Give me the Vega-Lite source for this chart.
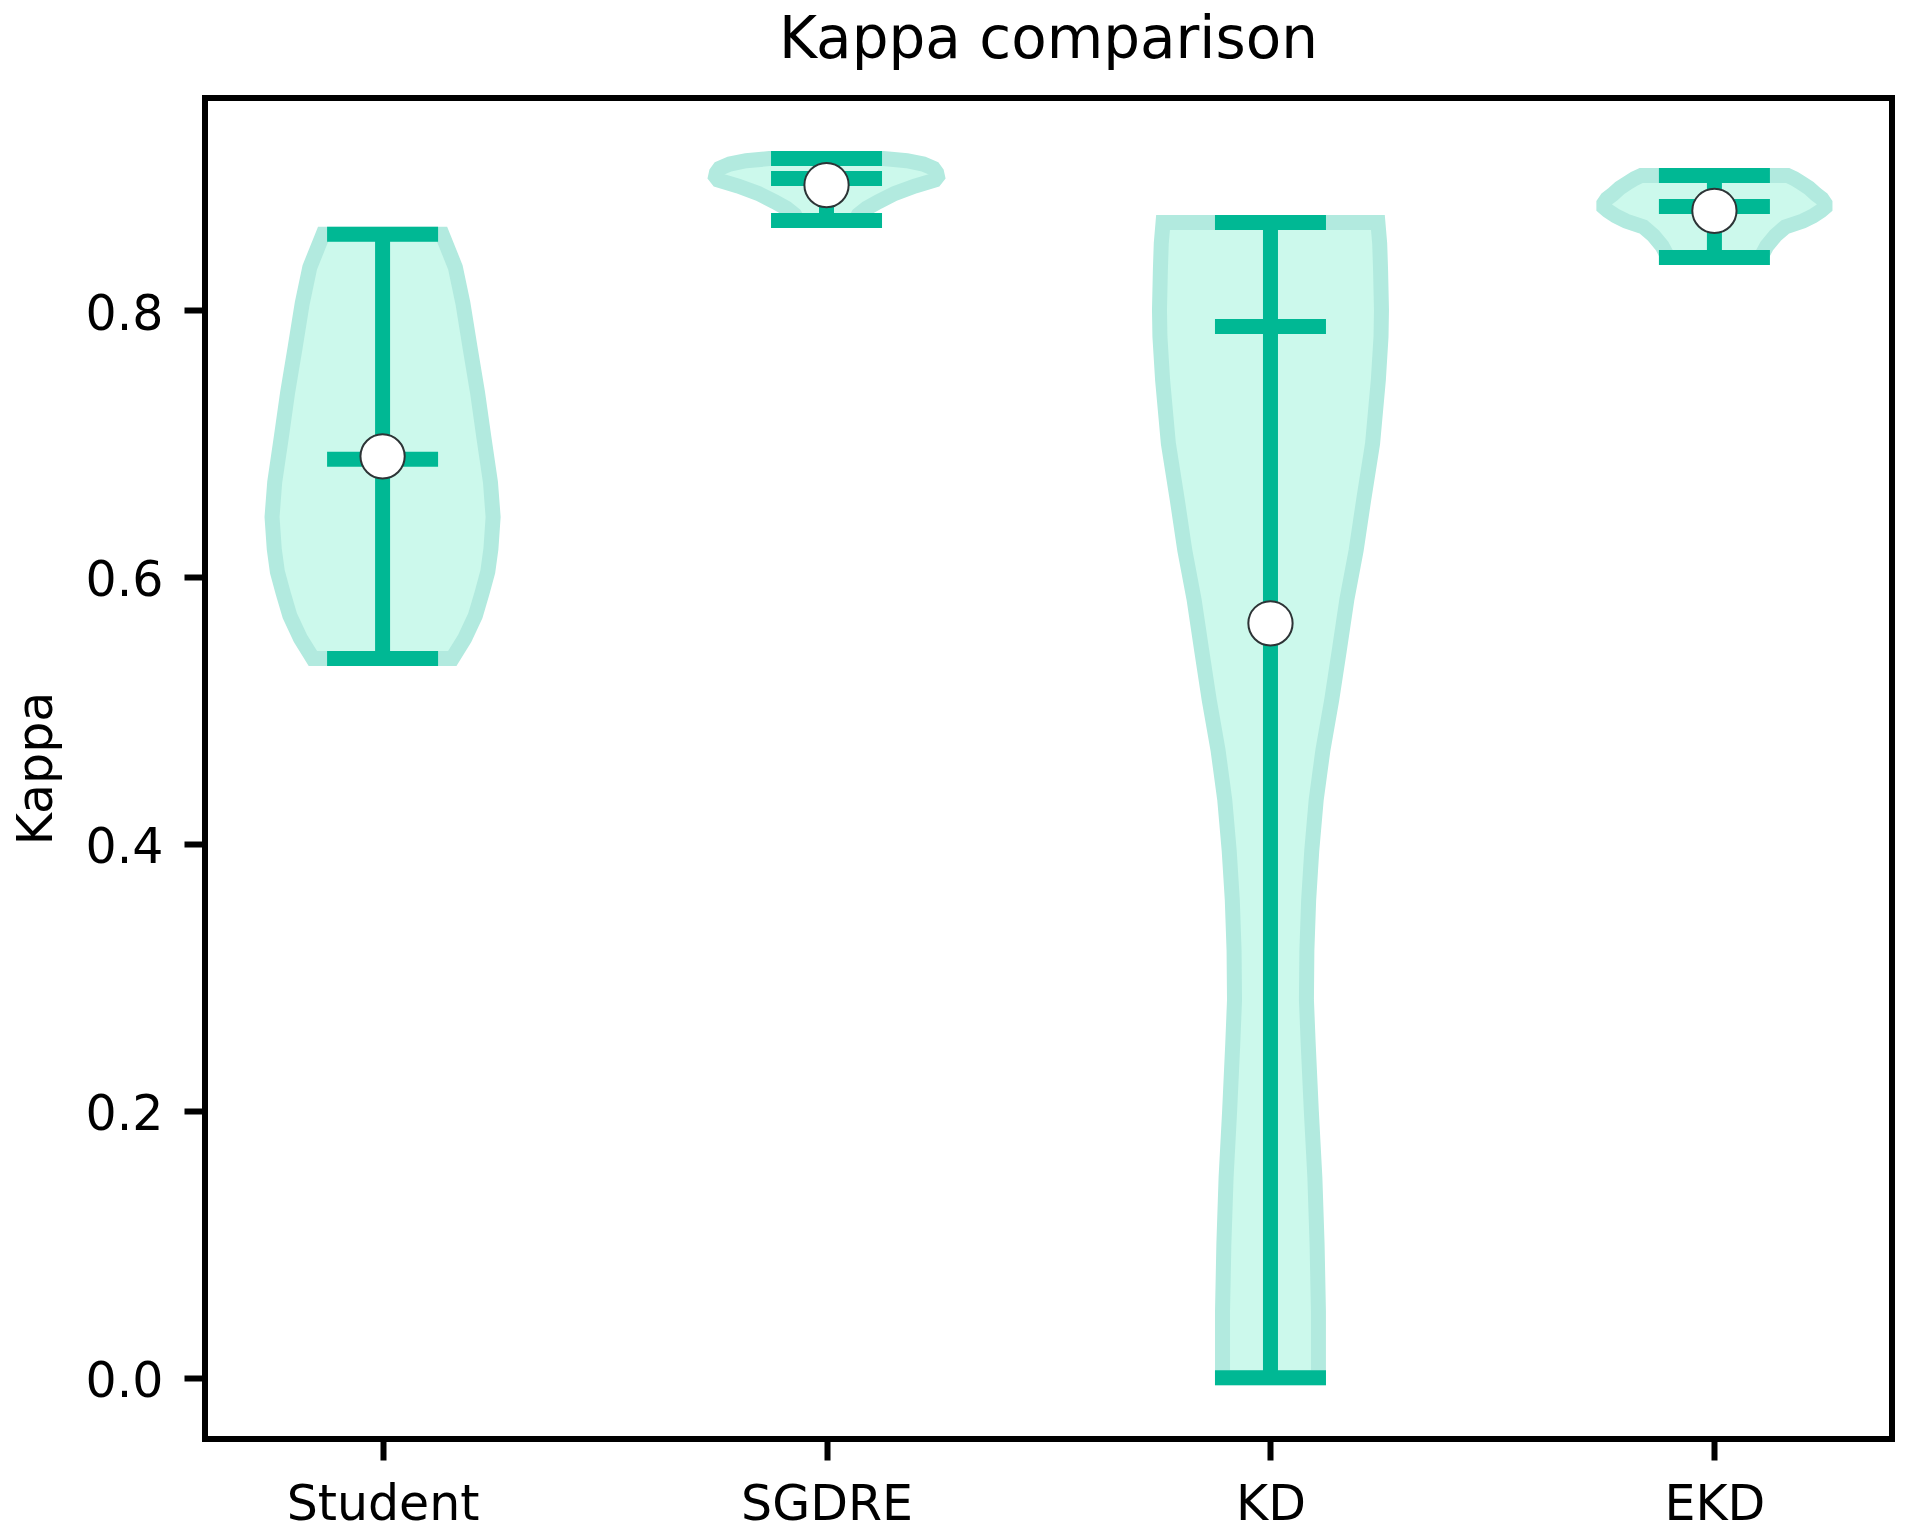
{
  "$schema": "https://vega.github.io/schema/vega-lite/v6.json",
  "width": 1687,
  "height": 1341,
  "autosize": {"type": "none"},
  "padding": {"left": 205, "top": 98, "right": 23, "bottom": 100},
  "background": "white",
  "title": {
    "text": "Kappa comparison",
    "font": "DejaVu Sans",
    "fontSize": 58,
    "fontWeight": "normal",
    "color": "black",
    "anchor": "middle",
    "frame": "group",
    "baseline": "alphabetic",
    "offset": 37,
    "dy": 55
  },
  "config": {
    "view": {"stroke": "black", "strokeWidth": 6},
    "axis": {
      "grid": false,
      "domain": false,
      "ticks": true,
      "tickColor": "black",
      "tickWidth": 6,
      "tickSize": 21,
      "labelFont": "DejaVu Sans",
      "labelFontSize": 49,
      "labelColor": "black",
      "labelLimit": 0,
      "titleFont": "DejaVu Sans",
      "titleFontSize": 49,
      "titleFontWeight": "normal",
      "titleColor": "black"
    }
  },
  "datasets": {
    "outline": [
      {"model": "Student", "kappa": 0.539, "lo": 0.843, "hi": 1.157},
      {"model": "Student", "kappa": 0.554, "lo": 0.815, "hi": 1.185},
      {"model": "Student", "kappa": 0.571, "lo": 0.791, "hi": 1.209},
      {"model": "Student", "kappa": 0.588, "lo": 0.776, "hi": 1.224},
      {"model": "Student", "kappa": 0.604, "lo": 0.763, "hi": 1.237},
      {"model": "Student", "kappa": 0.621, "lo": 0.756, "hi": 1.244},
      {"model": "Student", "kappa": 0.645, "lo": 0.751, "hi": 1.249},
      {"model": "Student", "kappa": 0.671, "lo": 0.757, "hi": 1.243},
      {"model": "Student", "kappa": 0.705, "lo": 0.772, "hi": 1.228},
      {"model": "Student", "kappa": 0.738, "lo": 0.786, "hi": 1.214},
      {"model": "Student", "kappa": 0.772, "lo": 0.803, "hi": 1.197},
      {"model": "Student", "kappa": 0.805, "lo": 0.819, "hi": 1.181},
      {"model": "Student", "kappa": 0.832, "lo": 0.836, "hi": 1.164},
      {"model": "Student", "kappa": 0.8568, "lo": 0.866, "hi": 1.134},

      {"model": "SGDRE", "kappa": 0.8672, "lo": 1.935, "hi": 2.065},
      {"model": "SGDRE", "kappa": 0.8715, "lo": 1.928, "hi": 2.072},
      {"model": "SGDRE", "kappa": 0.8762, "lo": 1.910, "hi": 2.090},
      {"model": "SGDRE", "kappa": 0.8812, "lo": 1.883, "hi": 2.117},
      {"model": "SGDRE", "kappa": 0.8874, "lo": 1.846, "hi": 2.154},
      {"model": "SGDRE", "kappa": 0.8929, "lo": 1.801, "hi": 2.199},
      {"model": "SGDRE", "kappa": 0.8974, "lo": 1.756, "hi": 2.244},
      {"model": "SGDRE", "kappa": 0.9000, "lo": 1.750, "hi": 2.250},
      {"model": "SGDRE", "kappa": 0.9030, "lo": 1.752, "hi": 2.248},
      {"model": "SGDRE", "kappa": 0.9062, "lo": 1.759, "hi": 2.241},
      {"model": "SGDRE", "kappa": 0.9094, "lo": 1.782, "hi": 2.218},
      {"model": "SGDRE", "kappa": 0.9119, "lo": 1.819, "hi": 2.181},
      {"model": "SGDRE", "kappa": 0.9135, "lo": 1.872, "hi": 2.128},

      {"model": "KD", "kappa": 0.0, "lo": 2.892, "hi": 3.108},
      {"model": "KD", "kappa": 0.05, "lo": 2.892, "hi": 3.108},
      {"model": "KD", "kappa": 0.1, "lo": 2.895, "hi": 3.105},
      {"model": "KD", "kappa": 0.15, "lo": 2.900, "hi": 3.100},
      {"model": "KD", "kappa": 0.2, "lo": 2.908, "hi": 3.092},
      {"model": "KD", "kappa": 0.25, "lo": 2.915, "hi": 3.085},
      {"model": "KD", "kappa": 0.283, "lo": 2.919, "hi": 3.081},
      {"model": "KD", "kappa": 0.32, "lo": 2.918, "hi": 3.082},
      {"model": "KD", "kappa": 0.358, "lo": 2.914, "hi": 3.086},
      {"model": "KD", "kappa": 0.395, "lo": 2.907, "hi": 3.093},
      {"model": "KD", "kappa": 0.433, "lo": 2.897, "hi": 3.103},
      {"model": "KD", "kappa": 0.47, "lo": 2.882, "hi": 3.118},
      {"model": "KD", "kappa": 0.508, "lo": 2.862, "hi": 3.138},
      {"model": "KD", "kappa": 0.545, "lo": 2.845, "hi": 3.155},
      {"model": "KD", "kappa": 0.583, "lo": 2.828, "hi": 3.172},
      {"model": "KD", "kappa": 0.62, "lo": 2.807, "hi": 3.193},
      {"model": "KD", "kappa": 0.658, "lo": 2.790, "hi": 3.210},
      {"model": "KD", "kappa": 0.70, "lo": 2.770, "hi": 3.230},
      {"model": "KD", "kappa": 0.7476, "lo": 2.757, "hi": 3.243},
      {"model": "KD", "kappa": 0.78, "lo": 2.751, "hi": 3.249},
      {"model": "KD", "kappa": 0.80, "lo": 2.750, "hi": 3.250},
      {"model": "KD", "kappa": 0.83, "lo": 2.752, "hi": 3.248},
      {"model": "KD", "kappa": 0.85, "lo": 2.754, "hi": 3.246},
      {"model": "KD", "kappa": 0.8656, "lo": 2.758, "hi": 3.242},

      {"model": "EKD", "kappa": 0.8394, "lo": 3.895, "hi": 4.105},
      {"model": "EKD", "kappa": 0.8412, "lo": 3.893, "hi": 4.107},
      {"model": "EKD", "kappa": 0.848, "lo": 3.882, "hi": 4.118},
      {"model": "EKD", "kappa": 0.8557, "lo": 3.863, "hi": 4.137},
      {"model": "EKD", "kappa": 0.8624, "lo": 3.840, "hi": 4.160},
      {"model": "EKD", "kappa": 0.8667, "lo": 3.801, "hi": 4.199},
      {"model": "EKD", "kappa": 0.8705, "lo": 3.778, "hi": 4.222},
      {"model": "EKD", "kappa": 0.8745, "lo": 3.760, "hi": 4.240},
      {"model": "EKD", "kappa": 0.877, "lo": 3.751, "hi": 4.249},
      {"model": "EKD", "kappa": 0.880, "lo": 3.751, "hi": 4.249},
      {"model": "EKD", "kappa": 0.8835, "lo": 3.758, "hi": 4.242},
      {"model": "EKD", "kappa": 0.8867, "lo": 3.771, "hi": 4.229},
      {"model": "EKD", "kappa": 0.8915, "lo": 3.787, "hi": 4.213},
      {"model": "EKD", "kappa": 0.8954, "lo": 3.805, "hi": 4.195},
      {"model": "EKD", "kappa": 0.8985, "lo": 3.820, "hi": 4.180},
      {"model": "EKD", "kappa": 0.9008, "lo": 3.835, "hi": 4.165}
    ],
    "stats": [
      {"model": "Student", "pos": 1, "min": 0.539, "max": 0.8568, "median": 0.6883, "mean": 0.6904},
      {"model": "SGDRE", "pos": 2, "min": 0.8672, "max": 0.9135, "median": 0.8986, "mean": 0.8937},
      {"model": "KD", "pos": 3, "min": 0.0, "max": 0.8656, "median": 0.7877, "mean": 0.5653},
      {"model": "EKD", "pos": 4, "min": 0.8394, "max": 0.9008, "median": 0.8776, "mean": 0.8744}
    ]
  },
  "layer": [
    {
      "data": {"name": "outline"},
      "mark": {"type": "area", "orient": "horizontal", "fill": "#ccf9ec", "stroke": "#b2eadf", "strokeWidth": 15, "strokeJoin": "miter", "opacity": 1},
      "encoding": {
        "y": {"field": "kappa", "type": "quantitative", "scale": {"domain": [-0.0459, 0.9589], "nice": false, "zero": false},
          "axis": {"values": [0, 0.2, 0.4, 0.6, 0.8], "format": ".1f", "title": "Kappa", "labelPadding": 21, "labelBaseline": "alphabetic", "labelOffset": 19, "titleX": -154, "titleY": 670, "titleAngle": 270, "titleBaseline": "alphabetic", "titleAlign": "center"}},
        "x": {"field": "lo", "type": "quantitative", "scale": {"domain": [0.6, 4.4], "nice": false, "zero": false},
          "axis": {"values": [1, 2, 3, 4], "title": null, "labelExpr": "['', 'Student', 'SGDRE', 'KD', 'EKD'][datum.value]", "labelPadding": 20, "labelOverlap": false}},
        "x2": {"field": "hi"},
        "detail": {"field": "model"}
      }
    },
    {
      "data": {"name": "stats"},
      "mark": {"type": "rule", "color": "#00b894", "strokeWidth": 15},
      "encoding": {
        "x": {"field": "pos", "type": "quantitative"},
        "y": {"field": "min", "type": "quantitative"},
        "y2": {"field": "max"}
      }
    },
    {
      "data": {"name": "stats"},
      "mark": {"type": "tick", "orient": "horizontal", "color": "#00b894", "size": 111, "thickness": 15, "opacity": 1},
      "encoding": {
        "x": {"field": "pos", "type": "quantitative"},
        "y": {"field": "min", "type": "quantitative"}
      }
    },
    {
      "data": {"name": "stats"},
      "mark": {"type": "tick", "orient": "horizontal", "color": "#00b894", "size": 111, "thickness": 15, "opacity": 1},
      "encoding": {
        "x": {"field": "pos", "type": "quantitative"},
        "y": {"field": "max", "type": "quantitative"}
      }
    },
    {
      "data": {"name": "stats"},
      "mark": {"type": "tick", "orient": "horizontal", "color": "#00b894", "size": 111, "thickness": 15, "opacity": 1},
      "encoding": {
        "x": {"field": "pos", "type": "quantitative"},
        "y": {"field": "median", "type": "quantitative"}
      }
    },
    {
      "data": {"name": "stats"},
      "mark": {"type": "point", "shape": "circle", "filled": true, "fill": "white", "stroke": "#2d3436", "strokeWidth": 2, "size": 1960, "opacity": 1},
      "encoding": {
        "x": {"field": "pos", "type": "quantitative"},
        "y": {"field": "mean", "type": "quantitative"}
      }
    }
  ]
}
